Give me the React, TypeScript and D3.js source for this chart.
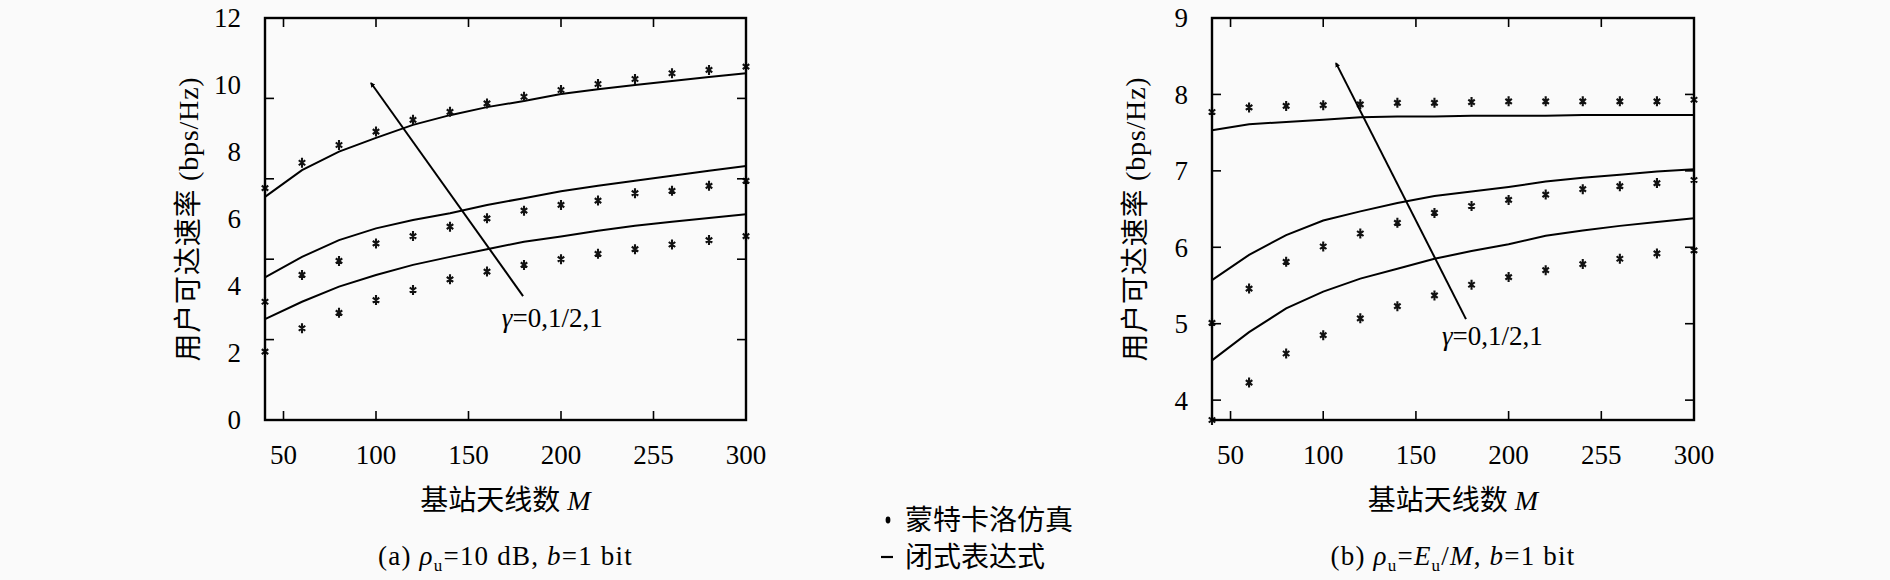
import React from "react";
import * as d3 from "d3";

const antennas = [40, 60, 80, 100, 120, 140, 160, 180, 200, 220, 240, 260, 280, 300];

// Panel (a): rho_u = 10 dB
const aSimTop = [6.92, 7.68, 8.21, 8.61, 8.96, 9.2, 9.45, 9.65, 9.85, 10.03, 10.18, 10.35, 10.45, 10.55];
const aSimMid = [3.53, 4.33, 4.75, 5.27, 5.49, 5.77, 6.02, 6.25, 6.42, 6.55, 6.77, 6.84, 6.99, 7.14];
const aSimBot = [2.04, 2.74, 3.2, 3.58, 3.88, 4.2, 4.43, 4.63, 4.8, 4.96, 5.1, 5.24, 5.37, 5.49];
const aLineTop = [6.66, 7.46, 8.01, 8.42, 8.81, 9.1, 9.34, 9.52, 9.73, 9.87, 10.0, 10.12, 10.24, 10.35];
const aLineMid = [4.26, 4.87, 5.37, 5.72, 5.97, 6.17, 6.42, 6.62, 6.83, 6.99, 7.14, 7.29, 7.44, 7.58];
const aLineBot = [3.01, 3.53, 3.98, 4.33, 4.63, 4.87, 5.1, 5.32, 5.48, 5.65, 5.8, 5.92, 6.03, 6.14];

// Panel (b): rho_u = E_u / M
const bSimTop = [7.77, 7.83, 7.85, 7.86, 7.87, 7.89, 7.89, 7.9, 7.91, 7.91, 7.91, 7.91, 7.91, 7.93];
const bSimMid = [5.01, 5.46, 5.81, 6.01, 6.18, 6.32, 6.45, 6.54, 6.62, 6.69, 6.76, 6.8, 6.84, 6.88];
const bSimBot = [3.74, 4.23, 4.61, 4.85, 5.07, 5.23, 5.37, 5.51, 5.61, 5.7, 5.78, 5.85, 5.92, 5.96];
const bLineTop = [7.53, 7.61, 7.64, 7.67, 7.7, 7.71, 7.71, 7.72, 7.72, 7.72, 7.73, 7.73, 7.73, 7.73];
const bLineMid = [5.57, 5.9, 6.16, 6.35, 6.47, 6.58, 6.67, 6.73, 6.79, 6.86, 6.91, 6.95, 6.99, 7.02];
const bLineBot = [4.52, 4.89, 5.2, 5.42, 5.59, 5.72, 5.85, 5.95, 6.04, 6.15, 6.22, 6.28, 6.33, 6.38];

const xTickValues = [50, 100, 150, 200, 250, 300];
const xTickLabels = ["50", "100", "150", "200", "255", "300"];
const aYLabels = [0, 2, 4, 6, 8, 10, 12];
const aYTickMarks = [2.4, 4.8, 7.2, 9.6];
const bYLabels = [4, 5, 6, 7, 8, 9];
const bYTickMarks = [4, 5, 6, 7, 8];

// annotation arrows in data units: [fromM, fromV, toM, toV], label [M, V]
const aArrow = [179.5, 3.7, 97.3, 10.06];
const aArrowLabel = [168, 3.07];
const bArrow = [177, 5.06, 106.9, 8.41];
const bArrowLabel = [164, 4.85];

const yTitle = "用户可达速率 (bps/Hz)";
const legendSim = "蒙特卡洛仿真";
const legendLine = "闭式表达式";

const FONT = "'Liberation Serif', 'Noto Sans CJK SC', serif";
const CJK = "'Noto Sans CJK SC', 'Liberation Serif', serif";

function asterisk(cx: number, cy: number) {
  const r = 5;
  let d = "";
  for (let k = 0; k < 3; k++) {
    const a = Math.PI / 2 + (k * Math.PI) / 3;
    const dx = r * Math.cos(a) * 0.75;
    const dy = r * Math.sin(a);
    d += `M${cx - dx},${cy - dy}L${cx + dx},${cy + dy}`;
  }
  return d;
}

type PanelProps = {
  left: number;
  right: number;
  yDomain: [number, number];
  yLabels: number[];
  yTickMarks: number[];
  sims: number[][];
  lines: number[][];
  arrow: number[];
  arrowLabel: number[];
  caption: React.ReactNode;
  id: string;
};

function Panel(p: PanelProps) {
  const top = 18;
  const bottom = 420;
  const x = d3.scaleLinear().domain([40, 300]).range([p.left, p.right]);
  const y = d3.scaleLinear().domain(p.yDomain).range([bottom, top]);
  const line = d3
    .line<number>()
    .x((_, i) => x(antennas[i]))
    .y((v) => y(v));
  const tick = 9;
  const cx = (p.left + p.right) / 2;
  const yy = d3
    .scaleLinear()
    .domain([p.yLabels[0], p.yLabels[p.yLabels.length - 1]])
    .range([p.yDomain[0] === p.yLabels[0] ? bottom : y(p.yLabels[0]), top]);
  return (
    <g>
      {p.lines.map((s, i) => (
        <path key={"l" + i} d={line(s) || ""} fill="none" stroke="#000" strokeWidth={2} />
      ))}
      {p.sims.map((s, i) => (
        <path
          key={"s" + i}
          d={s.map((v, j) => asterisk(x(antennas[j]), y(v))).join("")}
          fill="none"
          stroke="#111"
          strokeWidth={2.1}
        />
      ))}
      <rect
        x={p.left}
        y={top}
        width={p.right - p.left}
        height={bottom - top}
        fill="none"
        stroke="#000"
        strokeWidth={2.4}
      />
      {xTickValues.map((v, i) => (
        <g key={"xt" + i}>
          <line x1={x(v)} x2={x(v)} y1={bottom} y2={bottom - tick} stroke="#000" strokeWidth={1.6} />
          <line x1={x(v)} x2={x(v)} y1={top} y2={top + tick} stroke="#000" strokeWidth={1.6} />
          <text x={x(v)} y={455} dy="0.35em" textAnchor="middle" fontFamily={FONT} fontSize={27}>
            {xTickLabels[i]}
          </text>
        </g>
      ))}
      {p.yTickMarks.map((v, i) => (
        <g key={"ym" + i}>
          <line x1={p.left} x2={p.left + tick} y1={y(v)} y2={y(v)} stroke="#000" strokeWidth={1.6} />
          <line x1={p.right} x2={p.right - tick} y1={y(v)} y2={y(v)} stroke="#000" strokeWidth={1.6} />
        </g>
      ))}
      {p.yLabels.map((v, i) => (
        <text
          key={"yl" + i}
          x={p.left - 24}
          y={yy(v)}
          dy="0.35em"
          textAnchor="end"
          fontFamily={FONT}
          fontSize={27}
        >
          {v}
        </text>
      ))}
      <text
        transform={`translate(${p.left - 77},${(top + bottom) / 2}) rotate(-90)`}
        textAnchor="middle"
        dy="0.35em"
        fontFamily={FONT}
        fontSize={28}
        letterSpacing={0.8}
      >
        {yTitle}
      </text>
      <text x={cx} y={500} dy="0.35em" textAnchor="middle" fontFamily={FONT} fontSize={28}>
        基站天线数 <tspan fontStyle="italic">M</tspan>
      </text>
      <text
        x={cx}
        y={556}
        dy="0.35em"
        textAnchor="middle"
        fontFamily={FONT}
        fontSize={27}
        letterSpacing={1.2}
      >
        {p.caption}
      </text>
      <defs>
        <marker
          id={`arrow-${p.id}`}
          viewBox="0 0 10 10"
          refX="8"
          refY="5"
          markerWidth="2.5"
          markerHeight="2.5"
          orient="auto"
        >
          <path d="M0,0L10,5L0,10z" fill="#000" />
        </marker>
      </defs>
      <line
        x1={x(p.arrow[0])}
        y1={y(p.arrow[1])}
        x2={x(p.arrow[2])}
        y2={y(p.arrow[3])}
        stroke="#000"
        strokeWidth={2}
        markerEnd={`url(#arrow-${p.id})`}
      />
      <text x={x(p.arrowLabel[0])} y={y(p.arrowLabel[1])} dy="0.35em" fontFamily={FONT} fontSize={27}>
        <tspan fontStyle="italic">γ</tspan>=0,1/2,1
      </text>
    </g>
  );
}

export default function App() {
  return (
    <svg width={1890} height={580} style={{ position: "absolute", left: 0, top: 0, display: "block" }}>
      <rect x={0} y={0} width={1890} height={580} fill="#fafafa" />
      <Panel
        id="a"
        left={265}
        right={746}
        yDomain={[0, 12]}
        yLabels={aYLabels}
        yTickMarks={aYTickMarks}
        sims={[aSimTop, aSimMid, aSimBot]}
        lines={[aLineTop, aLineMid, aLineBot]}
        arrow={aArrow}
        arrowLabel={aArrowLabel}
        caption={
          <>
            (a) <tspan fontStyle="italic">ρ</tspan>
            <tspan fontSize={17} dy="6">u</tspan>
            <tspan dy="-6">=10 dB, </tspan>
            <tspan fontStyle="italic">b</tspan>=1 bit
          </>
        }
      />
      <Panel
        id="b"
        left={1212}
        right={1694}
        yDomain={[3.74, 9]}
        yLabels={bYLabels}
        yTickMarks={bYTickMarks}
        sims={[bSimTop, bSimMid, bSimBot]}
        lines={[bLineTop, bLineMid, bLineBot]}
        arrow={bArrow}
        arrowLabel={bArrowLabel}
        caption={
          <>
            (b) <tspan fontStyle="italic">ρ</tspan>
            <tspan fontSize={17} dy="6">u</tspan>
            <tspan dy="-6">=</tspan>
            <tspan fontStyle="italic">E</tspan>
            <tspan fontSize={17} dy="6">u</tspan>
            <tspan dy="-6">/</tspan>
            <tspan fontStyle="italic">M</tspan>, <tspan fontStyle="italic">b</tspan>=1 bit
          </>
        }
      />
      <ellipse cx={888} cy={520} rx={2.4} ry={3.4} fill="#000" />
      <text x={905} y={520} dy="0.35em" fontFamily={CJK} fontSize={28}>
        {legendSim}
      </text>
      <line x1={881} x2={893} y1={557} y2={557} stroke="#000" strokeWidth={2.2} />
      <text x={905} y={557} dy="0.35em" fontFamily={CJK} fontSize={28}>
        {legendLine}
      </text>
    </svg>
  );
}
